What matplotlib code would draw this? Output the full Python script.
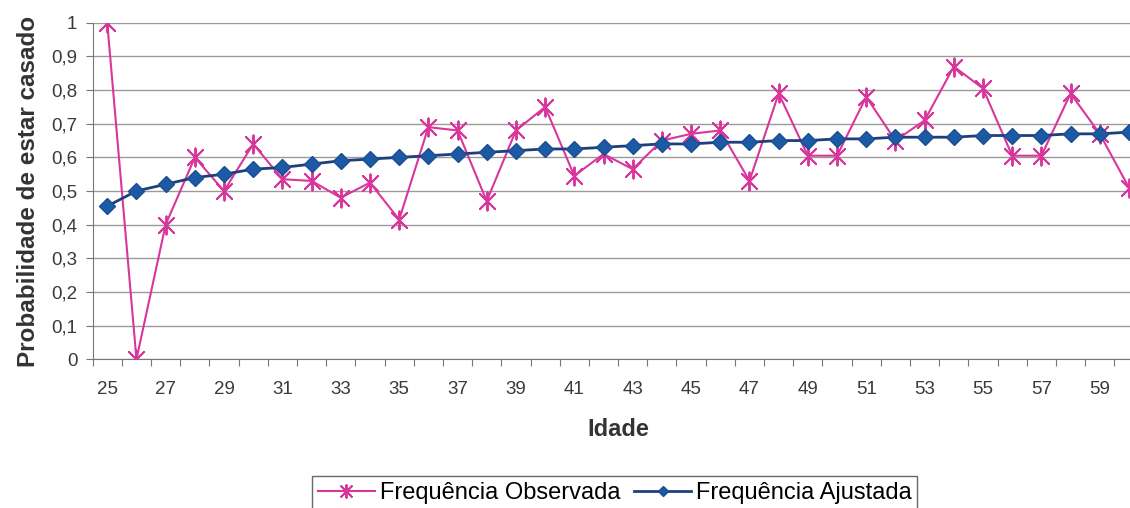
import numpy as np
import matplotlib.pyplot as plt
from matplotlib.ticker import FixedLocator, NullFormatter, FuncFormatter

plt.rcParams['font.family'] = ['Liberation Sans', 'DejaVu Sans']

# Idade (25 a 60)
idade = list(range(25, 61))
observada = [1.0, 0.0, 0.40, 0.60, 0.50, 0.64, 0.535, 0.53, 0.48, 0.525,
             0.415, 0.69, 0.68, 0.47, 0.68, 0.75, 0.545, 0.61, 0.565, 0.65,
             0.67, 0.68, 0.53, 0.79, 0.605, 0.605, 0.78, 0.65, 0.71, 0.87,
             0.805, 0.605, 0.605, 0.79, 0.67, 0.51]
ajustada = [0.455, 0.50, 0.52, 0.54, 0.55, 0.565, 0.57, 0.58, 0.59, 0.595,
            0.60, 0.605, 0.61, 0.615, 0.62, 0.625, 0.625, 0.63, 0.635, 0.64,
            0.64, 0.645, 0.645, 0.65, 0.65, 0.655, 0.655, 0.66, 0.66, 0.66,
            0.665, 0.665, 0.665, 0.67, 0.67, 0.675]
y_ticks = [0, 0.1, 0.2, 0.3, 0.4, 0.5, 0.6, 0.7, 0.8, 0.9, 1.0]

# Excel-like star marker: X plus a vertical bar
star = [(0, 0), (-1, -1), (0, 0), (1, 1), (0, 0), (-1, 1), (0, 0), (1, -1),
        (0, 0), (0, 1.2), (0, 0), (0, -1.2), (0, 0)]

fig = plt.figure(figsize=(11.3, 5.08), dpi=100)
# plot area runs slightly past the right edge (cropped scan)
ax = fig.add_axes([0.082, 0.293, 0.93, 0.662])

ax.plot(idade, observada, color='#d9369c', lw=1.5, marker=star,
        ms=13, mew=1.4, mec='#d9369c', label='Frequência Observada', zorder=3)
ax.plot(idade, ajustada, color='#1f3f7a', lw=2, marker='D', ms=8,
        mfc='#1c5aa6', mec='#1c4f92', label='Frequência Ajustada', zorder=4)

ax.set_xlim(24.5, 60.5)
ax.set_ylim(0, 1)
ax.set_yticks(y_ticks)
ax.yaxis.set_major_formatter(FuncFormatter(lambda v, p: f'{v:g}'.replace('.', ',')))
ax.grid(axis='y', color='#9a9a9a', lw=1)
ax.set_axisbelow(True)

# tick marks between categories, labels every other age
ax.xaxis.set_major_locator(FixedLocator(np.arange(24.5, 61, 1)))
ax.xaxis.set_major_formatter(NullFormatter())
ax.xaxis.set_minor_locator(FixedLocator(idade[::2]))
ax.xaxis.set_minor_formatter(FuncFormatter(lambda v, p: f'{int(v)}'))
ax.tick_params(axis='x', which='major', length=5, color='#777777')
ax.tick_params(axis='x', which='minor', length=0, pad=16, labelsize=13.5, labelcolor='#3a3a3a')
ax.tick_params(axis='y', length=5, pad=6, color='#777777', labelsize=13.5, labelcolor='#3a3a3a')

for s in ['top', 'right']:
    ax.spines[s].set_visible(False)
ax.spines['left'].set_color('#777777')
ax.spines['bottom'].set_color('#777777')

ax.set_xlabel('Idade', fontsize=17, fontweight='bold', color='#333333', labelpad=14)
ax.set_ylabel('Probabilidade de estar casado', fontsize=17.5, fontweight='bold',
              color='#333333', labelpad=8)

leg = fig.legend(loc='upper center', bbox_to_anchor=(0.544, 0.063), ncol=2,
                 fontsize=17, frameon=True, fancybox=False, edgecolor='#444444',
                 handlelength=2.4, handletextpad=0.2, columnspacing=0.6,
                 borderpad=0.25, borderaxespad=0, markerscale=0.7)
leg.get_frame().set_linewidth(1)

fig.savefig('out.png', dpi=100)
